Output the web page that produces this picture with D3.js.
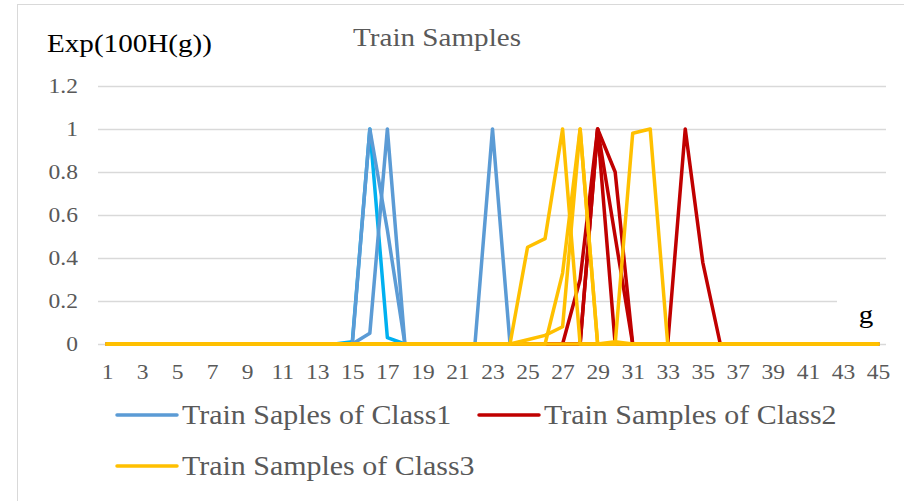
<!DOCTYPE html>
<html>
<head>
<meta charset="utf-8">
<script src="https://cdn.jsdelivr.net/npm/d3@7"></script>
<style>
  body { margin: 0; background: #fff; }
  text { font-family: "Liberation Serif", "Times New Roman", serif; }
</style>
</head>
<body>
<svg id="chart"></svg>
<script>
// g = 1..45
const categories = [1, 2, 3, 4, 5, 6, 7, 8, 9, 10,
  11, 12, 13, 14, 15, 16, 17, 18, 19, 20,
  21, 22, 23, 24, 25, 26, 27, 28, 29, 30,
  31, 32, 33, 34, 35, 36, 37, 38, 39, 40,
  41, 42, 43, 44, 45];

const yTicks = [0, 0.2, 0.4, 0.6, 0.8, 1, 1.2];
const xTicks = [1, 3, 5, 7, 9, 11, 13, 15, 17, 19, 21, 23, 25, 27, 29, 31, 33, 35, 37, 39, 41, 43, 45];

// class 1 samples
const class1a = [0, 0, 0, 0, 0, 0, 0, 0, 0, 0,
  0, 0, 0, 0, 0.01, 1, 0.03, 0, 0, 0,
  0, 0, 0, 0, 0, 0, 0, 0, 0, 0,
  0, 0, 0, 0, 0, 0, 0, 0, 0, 0,
  0, 0, 0, 0, 0];
const class1b = [0, 0, 0, 0, 0, 0, 0, 0, 0, 0,
  0, 0, 0, 0, 0, 0.05, 1, 0, 0, 0,
  0, 0, 0, 0, 0, 0, 0, 0, 0, 0,
  0, 0, 0, 0, 0, 0, 0, 0, 0, 0,
  0, 0, 0, 0, 0];
const class1c = [0, 0, 0, 0, 0, 0, 0, 0, 0, 0,
  0, 0, 0, 0, 0, 1, 0.53, 0, 0, 0,
  0, 0, 0, 0, 0, 0, 0, 0, 0, 0,
  0, 0, 0, 0, 0, 0, 0, 0, 0, 0,
  0, 0, 0, 0, 0];
const class1d = [0, 0, 0, 0, 0, 0, 0, 0, 0, 0,
  0, 0, 0, 0, 0, 0, 0, 0, 0, 0,
  0, 0, 1, 0, 0, 0, 0, 0, 0, 0,
  0, 0, 0, 0, 0, 0, 0, 0, 0, 0,
  0, 0, 0, 0, 0];

// class 2 samples
const class2a = [0, 0, 0, 0, 0, 0, 0, 0, 0, 0,
  0, 0, 0, 0, 0, 0, 0, 0, 0, 0,
  0, 0, 0, 0, 0, 0, 0, 0.3, 1, 0.8,
  0, 0, 0, 0, 0, 0, 0, 0, 0, 0,
  0, 0, 0, 0, 0];
const class2b = [0, 0, 0, 0, 0, 0, 0, 0, 0, 0,
  0, 0, 0, 0, 0, 0, 0, 0, 0, 0,
  0, 0, 0, 0, 0, 0, 0, 0, 1, 0.5,
  0, 0, 0, 0, 0, 0, 0, 0, 0, 0,
  0, 0, 0, 0, 0];
const class2c = [0, 0, 0, 0, 0, 0, 0, 0, 0, 0,
  0, 0, 0, 0, 0, 0, 0, 0, 0, 0,
  0, 0, 0, 0, 0, 0, 0, 0, 1, 0,
  0, 0, 0, 0, 0, 0, 0, 0, 0, 0,
  0, 0, 0, 0, 0];
const class2d = [0, 0, 0, 0, 0, 0, 0, 0, 0, 0,
  0, 0, 0, 0, 0, 0, 0, 0, 0, 0,
  0, 0, 0, 0, 0, 0, 0, 0, 0, 0,
  0, 0, 0, 1, 0.38, 0, 0, 0, 0, 0,
  0, 0, 0, 0, 0];

// class 3 samples
const class3a = [0, 0, 0, 0, 0, 0, 0, 0, 0, 0,
  0, 0, 0, 0, 0, 0, 0, 0, 0, 0,
  0, 0, 0, 0, 0.45, 0.49, 1, 0, 0, 0,
  0, 0, 0, 0, 0, 0, 0, 0, 0, 0,
  0, 0, 0, 0, 0];
const class3b = [0, 0, 0, 0, 0, 0, 0, 0, 0, 0,
  0, 0, 0, 0, 0, 0, 0, 0, 0, 0,
  0, 0, 0, 0, 0.02, 0.04, 0.08, 1, 0, 0,
  0, 0, 0, 0, 0, 0, 0, 0, 0, 0,
  0, 0, 0, 0, 0];
const class3c = [0, 0, 0, 0, 0, 0, 0, 0, 0, 0,
  0, 0, 0, 0, 0, 0, 0, 0, 0, 0,
  0, 0, 0, 0, 0, 0, 0.33, 1, 0, 0.01,
  0, 0, 0, 0, 0, 0, 0, 0, 0, 0,
  0, 0, 0, 0, 0];
const class3d = [0, 0, 0, 0, 0, 0, 0, 0, 0, 0,
  0, 0, 0, 0, 0, 0, 0, 0, 0, 0,
  0, 0, 0, 0, 0, 0, 0, 0, 0, 0,
  0.98, 1, 0, 0, 0, 0, 0, 0, 0, 0,
  0, 0, 0, 0, 0];

const legendLabels = ["Train Saples of Class1", "Train Samples of Class2", "Train Samples of Class3"];

const width = 904, height = 501;
const colors = { c1: "#5B9BD5", c1b: "#00B0F0", c2: "#C00000", c3: "#FFC000" };
const stretch = 1.12; // text in the original is a bit wider than Liberation Serif

const svg = d3.select("#chart")
  .attr("width", width)
  .attr("height", height);

// outer frame (only left and top visible)
svg.append("rect")
  .attr("x", 17.5).attr("y", 4.5)
  .attr("width", 950).attr("height", 600)
  .attr("fill", "none")
  .attr("stroke", "#D9D9D9");

const x = d3.scalePoint()
  .domain(categories)
  .range([107, 878]);

const y = d3.scaleLinear()
  .domain([0, 1.2])
  .range([344, 86]);

// horizontal grid
svg.append("g")
  .selectAll("line")
  .data(yTicks)
  .enter().append("line")
  .attr("x1", 98)
  .attr("x2", 886)
  .attr("y1", d => y(d) + 0.5)
  .attr("y2", d => y(d) + 0.5)
  .attr("stroke", "#D9D9D9")
  .attr("stroke-width", 1.3);

// y axis labels
const yAxis = svg.append("g")
  .attr("transform", "translate(78,0)")
  .call(d3.axisLeft(y).tickValues(yTicks).tickSize(0).tickPadding(0).tickFormat(d3.format("~g")));
yAxis.select(".domain").remove();
yAxis.selectAll("text")
  .attr("fill", "#595959")
  .attr("transform", "scale(" + stretch + ",1)")
  .style("font-size", "21px")
  .style("font-family", "'Liberation Serif', serif");

// x axis labels
const xAxis = svg.append("g")
  .attr("transform", "translate(0,360)")
  .call(d3.axisBottom(x).tickValues(xTicks).tickSize(0).tickPadding(4));
xAxis.select(".domain").remove();
xAxis.selectAll("text")
  .attr("fill", "#595959")
  .attr("transform", "scale(" + stretch + ",1)")
  .style("font-size", "21px")
  .style("font-family", "'Liberation Serif', serif");

// lines
const line = d3.line()
  .x((d, i) => x(categories[i]))
  .y(d => y(d));

const series = [
  [class1a, colors.c1b],
  [class1b, colors.c1],
  [class1c, colors.c1],
  [class1d, colors.c1],
  [class2a, colors.c2],
  [class2b, colors.c2],
  [class2c, colors.c2],
  [class2d, colors.c2],
  [class3a, colors.c3],
  [class3b, colors.c3],
  [class3c, colors.c3],
  [class3d, colors.c3]
];

svg.append("g")
  .selectAll("path")
  .data(series)
  .enter().append("path")
  .attr("d", d => line(d[0]))
  .attr("fill", "none")
  .attr("stroke", d => d[1])
  .attr("stroke-width", 3.5)
  .attr("stroke-linejoin", "round")
  .attr("stroke-linecap", "round");

function label(px, py, str, size, fill, anchor) {
  return svg.append("text")
    .attr("transform", "translate(" + px + "," + py + ") scale(" + stretch + ",1)")
    .attr("text-anchor", anchor || "start")
    .attr("fill", fill)
    .style("font-size", size + "px")
    .text(str);
}

// axis title on the right ("g") sits on a white box
svg.append("rect")
  .attr("x", 837).attr("y", 292)
  .attr("width", 60).attr("height", 44)
  .attr("fill", "#fff");
label(866, 323, "g", 26, "#000", "middle");

// y axis title
label(47, 52, "Exp(100H(g))", 26, "#000");

// chart title
label(437, 46, "Train Samples", 26, "#595959", "middle");

// legend
const legendPos = [[117, 415], [479, 415], [117, 466]];
const legendColors = [colors.c1, colors.c2, colors.c3];
const legend = svg.append("g")
  .selectAll("g")
  .data(legendLabels)
  .enter().append("g")
  .attr("transform", (d, i) => "translate(" + legendPos[i][0] + "," + legendPos[i][1] + ")");

legend.append("line")
  .attr("x1", 0).attr("x2", 60)
  .attr("y1", 0).attr("y2", 0)
  .attr("stroke", (d, i) => legendColors[i])
  .attr("stroke-width", 3.5)
  .attr("stroke-linecap", "round");

legend.append("text")
  .attr("transform", "translate(65,9) scale(1.07,1)")
  .attr("fill", "#595959")
  .style("font-size", "28px")
  .text(d => d);
</script>
</body>
</html>
